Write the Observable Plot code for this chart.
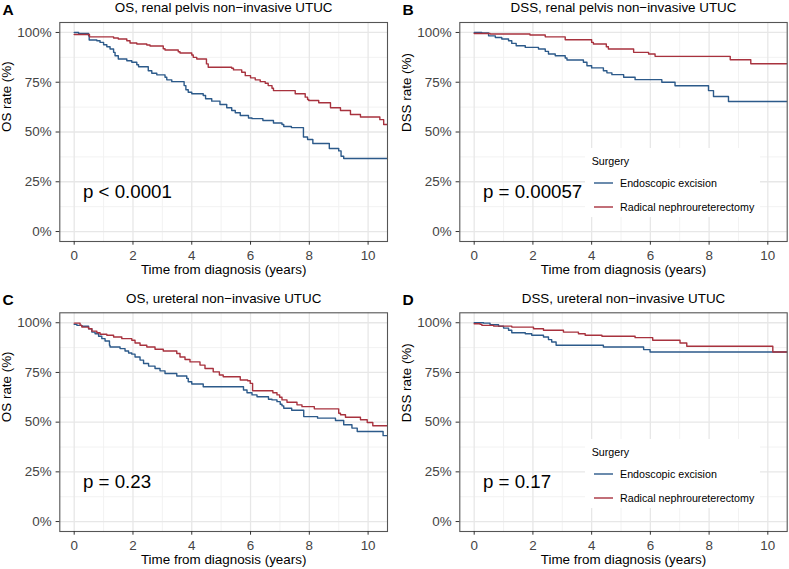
<!DOCTYPE html>
<html>
<head>
<meta charset="utf-8">
<script src="https://cdn.jsdelivr.net/npm/d3@7"></script>
<script src="https://cdn.jsdelivr.net/npm/@observablehq/plot@0.6"></script>
<style>
  html, body { margin: 0; padding: 0; background: #fff; }
  #fig { position: relative; width: 789px; height: 569px; overflow: hidden; background: #fff;
         font-family: "Liberation Sans", Arial, Helvetica, sans-serif; }
  #fig > div.panel { position: absolute; }
  #fig svg { overflow: visible; }
</style>
</head>
<body>
<div id="fig"></div>
<script>
// ---------- axis ticks & labels ----------
const xMajor = [0, 2, 4, 6, 8, 10];
const xMinor = [1, 3, 5, 7, 9];
const yTicks = [0, 25, 50, 75, 100];
const yTickLabels = ["0%", "25%", "50%", "75%", "100%"];
const yMinor = [12.5, 37.5, 62.5, 87.5];
const xTitle = "Time from diagnosis (years)";
const legendTitle = "Surgery";
const groups = ["Endoscopic excision", "Radical nephroureterectomy"];
const colors = ["#2c5a8a", "#a8323e"];

const letters = ["A", "B", "C", "D"];
const titles = ["OS, renal pelvis non\u2212invasive UTUC", "DSS, renal pelvis non\u2212invasive UTUC",
                "OS, ureteral non\u2212invasive UTUC", "DSS, ureteral non\u2212invasive UTUC"];
const yTitles = ["OS rate (%)", "DSS rate (%)", "OS rate (%)", "DSS rate (%)"];
const pvals = ["p < 0.0001", "p = 0.00057", "p = 0.23", "p = 0.17"];

// ---------- Panel A: OS, renal pelvis ----------
const aEE_t = [0, 0.15, 0.49, 0.51, 0.77, 0.88, 1.0, 1.11, 1.22, 1.34, 1.39, 1.5, 1.79, 1.96, 2.13, 2.19, 2.52, 2.64, 2.81, 3.09, 3.15, 3.32, 3.74, 3.8, 3.88, 4.0, 4.39, 4.47, 4.68, 4.96, 5.19, 5.36, 5.48, 5.65, 5.93, 6.05, 6.42, 6.78, 7.07, 7.13, 7.39, 7.8, 7.94, 8.12, 8.68, 9.0, 9.08, 9.17, 10.64];
const aEE_s = [100, 99.5, 98.3, 96.2, 95.8, 95, 93.8, 92.8, 91.7, 90, 88.3, 86.7, 85.8, 85, 83.8, 82.8, 80.8, 79.5, 78.7, 77.5, 76.2, 75.3, 73.3, 71.2, 70, 69.2, 68.3, 66.7, 65.5, 63.8, 62.2, 60.8, 59.7, 58.3, 57, 56.7, 55.8, 54.5, 53.8, 52.8, 52.2, 47.5, 46.2, 44.2, 41.7, 40.5, 37.8, 36.7, 36.7];
const aRN_t = [0, 0.52, 1.34, 1.5, 1.79, 1.9, 2.13, 2.47, 2.58, 3.03, 3.09, 3.54, 3.6, 4.0, 4.05, 4.17, 4.5, 4.56, 5.36, 5.42, 5.7, 5.82, 6.0, 6.16, 6.33, 6.5, 6.6, 6.73, 6.78, 7.52, 7.86, 7.94, 7.98, 8.32, 8.72, 9.06, 9.4, 9.74, 10.4, 10.53, 10.64];
const aRN_s = [99, 97.8, 97.2, 96.7, 95.8, 94.7, 94.2, 93.7, 93.2, 91.8, 91.2, 90.3, 89.7, 88.7, 87.5, 86.7, 84.2, 82.5, 82, 81.2, 80, 78.3, 77.2, 76.2, 75.3, 74.5, 73.3, 72, 70.8, 69.2, 67.5, 66.3, 65.8, 64.7, 62.2, 60.8, 58.8, 57.5, 56.2, 53.8, 53.8];

// ---------- Panel B: DSS, renal pelvis ----------
const bEE_t = [0, 0.26, 0.49, 0.72, 0.94, 1.17, 1.28, 1.43, 1.74, 2.19, 2.42, 2.53, 2.76, 3.1, 3.16, 3.72, 3.84, 4.0, 4.4, 4.52, 4.69, 5.09, 5.48, 6.39, 6.84, 7.98, 8.15, 8.66, 10.64];
const bEE_s = [100, 99.8, 98.3, 97.5, 96.7, 95.8, 94.5, 93.3, 92.5, 91.7, 90.5, 89.2, 88.3, 87.2, 86.2, 85, 83.3, 82.2, 80.8, 79.7, 78.8, 77.5, 76.3, 75, 73.2, 70.8, 67.8, 65.3, 65.3];
const bRN_t = [0, 0.54, 1.9, 2.42, 3.1, 4.0, 4.06, 4.5, 4.57, 5.43, 5.94, 6.16, 8.72, 9.42, 10.64];
const bRN_s = [99.5, 99.2, 98.7, 97.8, 96.3, 95, 94.2, 92.8, 91.7, 90, 89.2, 88, 86.3, 84.3, 84.3];

// ---------- Panel C: OS, ureteral ----------
const cEE_t = [0, 0.09, 0.26, 0.49, 0.6, 0.71, 0.83, 0.94, 1.05, 1.2, 1.22, 1.56, 1.73, 1.85, 1.96, 2.07, 2.24, 2.36, 2.53, 2.75, 2.92, 3.09, 3.49, 3.83, 3.88, 4.0, 4.39, 5.76, 5.88, 6.05, 6.22, 6.61, 6.73, 6.9, 7.01, 7.07, 7.13, 7.4, 7.81, 8.28, 8.89, 9.17, 9.45, 9.63, 10.51, 10.64];
const cEE_s = [99.2, 98.7, 98.2, 97, 95.3, 94.5, 93.2, 92, 90.8, 88.7, 87.8, 87, 85.8, 84.8, 84.2, 82.8, 81.2, 79.5, 78.2, 77, 75.8, 74.5, 73.2, 72, 70.3, 69.2, 67.8, 66.2, 64.8, 63.7, 62.8, 61.5, 61.2, 60.3, 59, 58.2, 57, 56, 52.8, 52, 50.8, 48.7, 47, 45.3, 43.2, 43.2];
const cRN_t = [0, 0.2, 0.26, 0.49, 0.6, 0.77, 0.88, 1.11, 1.34, 1.62, 1.96, 2.07, 2.24, 2.47, 2.75, 3.03, 3.49, 3.6, 3.77, 3.94, 4.28, 4.45, 4.73, 4.94, 5.07, 5.65, 5.9, 5.99, 6.07, 6.76, 6.9, 6.99, 7.07, 7.24, 7.58, 7.75, 8.17, 9.0, 9.06, 9.23, 9.74, 9.97, 10.16, 10.64];
const cRN_s = [99.8, 98.7, 97.8, 97, 95.8, 95, 94.2, 93.7, 92.8, 92, 91.2, 89.8, 88.7, 87.8, 86.7, 85.8, 84.5, 82.8, 81.5, 80.3, 78.7, 77, 75.3, 73.7, 72.8, 71.2, 70.8, 69.5, 65.8, 64.8, 63.7, 62.5, 61.2, 60, 58.7, 57.8, 56.7, 54.5, 53.7, 52.5, 51.2, 49.8, 48.2, 48.2];

// ---------- Panel D: DSS, ureteral ----------
const dEE_t = [0, 0.32, 0.54, 0.83, 1.0, 1.17, 1.28, 1.74, 1.96, 2.36, 2.53, 2.64, 2.79, 4.4, 5.77, 5.99, 10.64];
const dEE_s = [100, 99.8, 99, 98.2, 97.3, 96.2, 95, 94.5, 93.7, 92.8, 91.5, 90.3, 88.7, 87.8, 86.5, 85.3, 85.3];
const dRN_t = [0, 0.2, 0.26, 0.66, 1.28, 2.02, 2.36, 3.04, 3.55, 3.78, 4.35, 5.48, 6.08, 7.01, 7.24, 10.17, 10.64];
const dRN_s = [99.5, 99.2, 98.7, 98.3, 97.8, 97, 96.2, 95.3, 94.5, 93.7, 93.2, 92.5, 91.2, 89.8, 88.2, 85.3, 85.3];

const FONT = '"Liberation Sans", Arial, Helvetica, sans-serif';
const toRows = (t, s) => t.map((d, i) => ({t: d, s: s[i]}));

const panels = [
  {ee: [aEE_t, aEE_s], rn: [aRN_t, aRN_s], left: 0,   top: 0,   width: 394, mt: 22,   mr: 7,   legend: false},
  {ee: [bEE_t, bEE_s], rn: [bRN_t, bRN_s], left: 400, top: 0,   width: 389, mt: 22,   mr: 2.3, legend: true},
  {ee: [cEE_t, cEE_s], rn: [cRN_t, cRN_s], left: 0,   top: 290, width: 394, mt: 22.3, mr: 7,   legend: false},
  {ee: [dEE_t, dEE_s], rn: [dRN_t, dRN_s], left: 400, top: 290, width: 389, mt: 22.3, mr: 2.3, legend: true}
];

const fig = document.getElementById("fig");

panels.forEach((p, k) => {
  const height = 279;
  const ml = 59.3, mb = 38;
  const chart = Plot.plot({
    width: p.width, height,
    marginLeft: ml, marginRight: p.mr, marginTop: p.mt, marginBottom: mb,
    style: {fontFamily: FONT, fontSize: "13.4px", background: "transparent", color: "#000", overflow: "visible"},
    x: {domain: [-0.49, 10.66], label: null},
    y: {domain: [-5, 105], label: null},
    marks: [
      Plot.ruleX(xMinor, {stroke: "#f1f1f1", strokeWidth: 0.9}),
      Plot.ruleY(yMinor, {stroke: "#f1f1f1", strokeWidth: 0.9}),
      Plot.ruleX(xMajor, {stroke: "#e7e7e7", strokeWidth: 1.3}),
      Plot.ruleY(yTicks, {stroke: "#e7e7e7", strokeWidth: 1.3}),
      Plot.line(toRows(p.ee[0], p.ee[1]), {x: "t", y: "s", curve: "step-after", stroke: colors[0], strokeWidth: 1.4}),
      Plot.line(toRows(p.rn[0], p.rn[1]), {x: "t", y: "s", curve: "step-after", stroke: colors[1], strokeWidth: 1.4}),
      Plot.frame({stroke: "#555", strokeWidth: 1.1}),
      Plot.axisX(xMajor, {label: null, tickSize: 3.7, tickPadding: 5.5, fontSize: 13.4, stroke: "#333", fill: "#444"}),
      Plot.axisY(yTicks, {label: null, tickSize: 3.7, tickPadding: 4.5, fontSize: 13.4, stroke: "#333", fill: "#444",
                          tickFormat: d => yTickLabels[yTicks.indexOf(d)]}),
      Plot.text([pvals[k]], {x: () => 0.3, y: () => 20, text: d => d, textAnchor: "start", lineAnchor: "middle",
                             fontSize: 18.7, fill: "#000"}),
      Plot.text([titles[k]], {frameAnchor: "top", lineAnchor: "middle", dy: -14.3, text: d => d, fontSize: 13.4, fill: "#000"}),
      Plot.text([xTitle], {frameAnchor: "bottom", lineAnchor: "middle", dy: 28.7, text: d => d, fontSize: 13.4, fill: "#000"}),
      Plot.text([yTitles[k]], {frameAnchor: "left", lineAnchor: "middle", rotate: -90, dx: -52.6, text: d => d,
                               fontSize: 13.4, fill: "#000"}),
      Plot.text([letters[k]], {frameAnchor: "top-left", lineAnchor: "middle", dx: -57.3, dy: -12.8, text: d => d,
                               textAnchor: "start", fontSize: 15.5, fontWeight: "bold", fill: "#000"})
    ]
  });
  const holder = document.createElement("div");
  holder.className = "panel";
  holder.style.left = p.left + "px";
  holder.style.top = p.top + "px";
  holder.appendChild(chart);
  fig.appendChild(holder);

  if (p.legend) {
    // legend box inside the panel (ggplot legend.position inside)
    const boxX = 185, boxY = p.mt + 126.3, boxW = 175, boxH = 69;
    const svg = d3.select(holder).append("svg")
      .attr("width", boxW).attr("height", boxH)
      .style("position", "absolute").style("left", boxX + "px").style("top", boxY + "px")
      .style("font-family", FONT);
    svg.append("rect").attr("width", boxW).attr("height", boxH).attr("fill", "#fff");
    svg.append("text").attr("x", 6.7).attr("y", 16.7).attr("font-size", 10.7).attr("fill", "#000").text(legendTitle);
    groups.forEach((g, i) => {
      const yy = 35 + i * 24;
      svg.append("line").attr("x1", 9).attr("x2", 28).attr("y1", yy).attr("y2", yy)
        .attr("stroke", colors[i]).attr("stroke-width", 1.4);
      svg.append("text").attr("x", 35).attr("y", yy).attr("dy", "0.35em")
        .attr("font-size", 10.7).attr("fill", "#000").text(g);
    });
  }
});
</script>
</body>
</html>
